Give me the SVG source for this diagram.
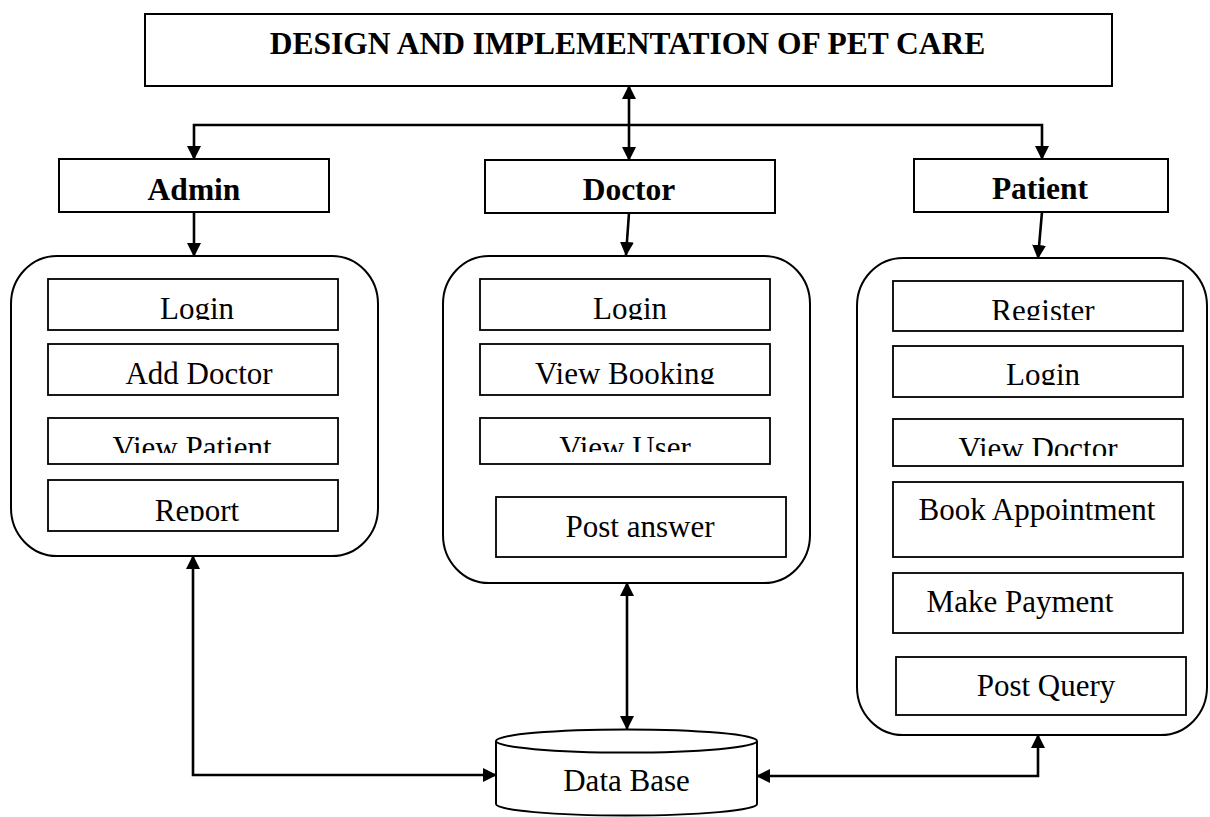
<svg xmlns="http://www.w3.org/2000/svg" width="1210" height="817" viewBox="0 0 1210 817">
<style>
.box{fill:#fff;stroke:#000;stroke-width:1.8}
.cont{fill:#fff;stroke:#000;stroke-width:2}
.ln{fill:none;stroke:#000;stroke-width:2.6}
.t{font-family:"Liberation Serif","Times New Roman",serif;font-size:31px;fill:#000;text-anchor:middle}
.b{font-family:"Liberation Serif","Times New Roman",serif;font-size:31.5px;font-weight:bold;fill:#000;text-anchor:middle}
</style>
<defs>
<marker id="ah" viewBox="0 0 14 14" markerWidth="14" markerHeight="14" refX="13" refY="7" orient="auto-start-reverse" markerUnits="userSpaceOnUse">
<path d="M0,0 L14,7 L0,14 z" fill="#000"/>
</marker>
<clipPath id="c1"><rect x="48" y="279" width="290" height="41"/></clipPath>
<clipPath id="c2"><rect x="48" y="418" width="290" height="35"/></clipPath>
<clipPath id="c3"><rect x="48" y="480" width="290" height="41"/></clipPath>
<clipPath id="c4"><rect x="480" y="279" width="290" height="41"/></clipPath>
<clipPath id="c5"><rect x="480" y="344" width="290" height="40"/></clipPath>
<clipPath id="c6"><rect x="480" y="418" width="290" height="34"/></clipPath>
<clipPath id="c7"><rect x="893" y="281" width="290" height="39"/></clipPath>
<clipPath id="c8"><rect x="893" y="346" width="290" height="39"/></clipPath>
<clipPath id="c9"><rect x="893" y="419" width="290" height="37"/></clipPath>
</defs>

<g id="title">
<rect class="box" x="145" y="14" width="967" height="72" style="stroke-width:2"/>
<text class="b" x="627.5" y="54">DESIGN AND IMPLEMENTATION OF PET CARE</text>
</g>

<g id="admin">
<rect class="box" x="59" y="159" width="270" height="53" style="stroke-width:2"/>
<text class="b" x="194" y="200">Admin</text>
</g>
<g id="doctor">
<rect class="box" x="485" y="160" width="290" height="53" style="stroke-width:2"/>
<text class="b" x="629" y="200">Doctor</text>
</g>
<g id="patient">
<rect class="box" x="914" y="159" width="254" height="53" style="stroke-width:2"/>
<text class="b" x="1040" y="199">Patient</text>
</g>

<g id="admin-functions">
<rect class="cont" x="11" y="256" width="367" height="300" rx="46" ry="48"/>
<rect class="box" x="48" y="279" width="290" height="51"/>
<text class="t" x="197" y="319" clip-path="url(#c1)">Login</text>
<rect class="box" x="48" y="344" width="290" height="51"/>
<text class="t" x="199" y="384">Add Doctor</text>
<rect class="box" x="48" y="418" width="290" height="46"/>
<text class="t" x="192" y="458" clip-path="url(#c2)">View Patient</text>
<rect class="box" x="48" y="480" width="290" height="51"/>
<text class="t" x="197" y="521" clip-path="url(#c3)">Report</text>
</g>

<g id="doctor-functions">
<rect class="cont" x="443" y="256" width="367" height="327" rx="46" ry="48"/>
<rect class="box" x="480" y="279" width="290" height="51"/>
<text class="t" x="630" y="319" clip-path="url(#c4)">Login</text>
<rect class="box" x="480" y="344" width="290" height="51"/>
<text class="t" x="625" y="384" clip-path="url(#c5)">View Booking</text>
<rect class="box" x="480" y="418" width="290" height="46"/>
<text class="t" x="625" y="458" clip-path="url(#c6)">View User</text>
<rect class="box" x="496" y="497" width="290" height="60"/>
<text class="t" x="640" y="537">Post answer</text>
</g>

<g id="patient-functions">
<rect class="cont" x="857" y="258" width="350" height="477" rx="46" ry="48"/>
<rect class="box" x="893" y="281" width="290" height="50"/>
<text class="t" x="1043" y="320.5" clip-path="url(#c7)">Register</text>
<rect class="box" x="893" y="346" width="290" height="51"/>
<text class="t" x="1043" y="385" clip-path="url(#c8)">Login</text>
<rect class="box" x="893" y="419" width="290" height="47"/>
<text class="t" x="1038" y="459" clip-path="url(#c9)">View Doctor</text>
<rect class="box" x="893" y="482" width="290" height="75"/>
<text class="t" x="1037" y="520">Book Appointment</text>
<rect class="box" x="893" y="573" width="290" height="60"/>
<text class="t" x="1020" y="612">Make Payment</text>
<rect class="box" x="896" y="657" width="290" height="58"/>
<text class="t" x="1046" y="696">Post Query</text>
</g>

<g id="database">
<path class="cont" d="M496,741 L496,804 A130.5,11.5 0 0 0 757,804 L757,741"/>
<ellipse class="cont" cx="626.5" cy="741" rx="130.5" ry="11.5"/>
<text class="t" x="626.5" y="791">Data Base</text>
</g>

<g id="connectors">
<path class="ln" d="M194,159 L194,125 L1042,125 L1042,159" marker-start="url(#ah)" marker-end="url(#ah)"/>
<path class="ln" d="M629,86 L629,160" marker-start="url(#ah)" marker-end="url(#ah)"/>
<path class="ln" d="M194,212 L194,256" marker-end="url(#ah)"/>
<path class="ln" d="M629,213 L626,255" marker-end="url(#ah)"/>
<path class="ln" d="M1042,212 L1038,258" marker-end="url(#ah)"/>
<path class="ln" d="M193,556 L193,775 L496,775" marker-start="url(#ah)" marker-end="url(#ah)"/>
<path class="ln" d="M627,583 L627,729" marker-start="url(#ah)" marker-end="url(#ah)"/>
<path class="ln" d="M1038,735 L1038,776 L757,776" marker-start="url(#ah)" marker-end="url(#ah)"/>
</g>
</svg>
